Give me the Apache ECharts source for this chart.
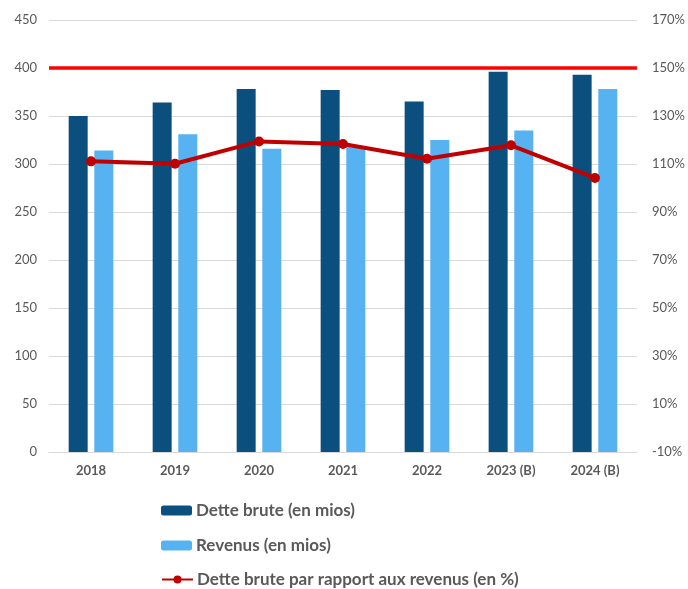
<!DOCTYPE html>
<html>
<head>
<meta charset="utf-8">
<script src="https://cdn.jsdelivr.net/npm/echarts@6/dist/echarts.min.js"></script>
<style>html,body{margin:0;padding:0;background:#fff}#c{width:688px;height:589px}</style>
</head>
<body>
<div id="c"></div>
<script>
const categories = ['2018','2019','2020','2021','2022','2023 (B)','2024 (B)'];
const detteBrute = [350, 364, 378, 377, 365, 396, 393];
const revenus = [314, 331, 316, 318, 325, 335, 378];
const ratio = [111.1, 110.1, 119.4, 118.3, 112.2, 117.8, 104.2];
const seuil = 150;
const seriesNames = ['Dette brute (en mios)', 'Revenus (en mios)', 'Dette brute par rapport aux revenus (en %)'];

const font = 'Lato';
const grey = '#595959';
const legendTops = [502, 537, 571];
const chart = echarts.init(document.getElementById('c'));
chart.setOption({
  animation: false,
  textStyle: { fontFamily: font },
  grid: { left: 49, right: 48, top: 20, bottom: 137 },
  legend: seriesNames.map((n, i) => ({
    orient: 'vertical', left: 161, top: legendTops[i], padding: 0,
    itemWidth: 31, itemHeight: 10, itemGap: 0,
    textStyle: { fontFamily: font, fontSize: 17, fontWeight: 'bold', color: grey, padding: [0, 0, 0, -1] },
    data: [n]
  })),
  xAxis: {
    type: 'category', data: categories,
    axisLine: { lineStyle: { color: '#d9d9d9', width: 1 } },
    axisTick: { show: false },
    axisLabel: { color: grey, fontSize: 13, fontWeight: 'bold', margin: 12, fontFamily: font }
  },
  yAxis: [
    { type: 'value', min: 0, max: 450, interval: 50,
      axisLine: { show: false }, axisTick: { show: false },
      splitLine: { lineStyle: { color: '#d9d9d9', width: 1 } },
      axisLabel: { color: grey, fontSize: 13, margin: 12, fontFamily: font } },
    { type: 'value', min: -10, max: 170, alignTicks: true,
      axisLine: { show: false }, axisTick: { show: false },
      splitLine: { show: false },
      axisLabel: { color: grey, fontSize: 13, margin: 15, formatter: '{value}%', fontFamily: font } }
  ],
  series: [
    { name: seriesNames[0], type: 'bar', data: detteBrute, barWidth: 19, barGap: '35%',
      itemStyle: { color: '#0B4F7E' } },
    { name: seriesNames[1], type: 'bar', data: revenus, barWidth: 19,
      itemStyle: { color: '#56B2F0' } },
    { name: seriesNames[2], type: 'line', yAxisIndex: 1, data: ratio,
      symbol: 'circle', symbolSize: 10,
      lineStyle: { color: '#C00000', width: 4 }, itemStyle: { color: '#C00000' },
      markLine: { silent: true, symbol: 'none', label: { show: false },
        lineStyle: { color: '#FF0000', width: 3.5, type: 'solid' },
        data: [{ yAxis: seuil }] },
      z: 5 }
  ]
});
</script>
</body>
</html>
